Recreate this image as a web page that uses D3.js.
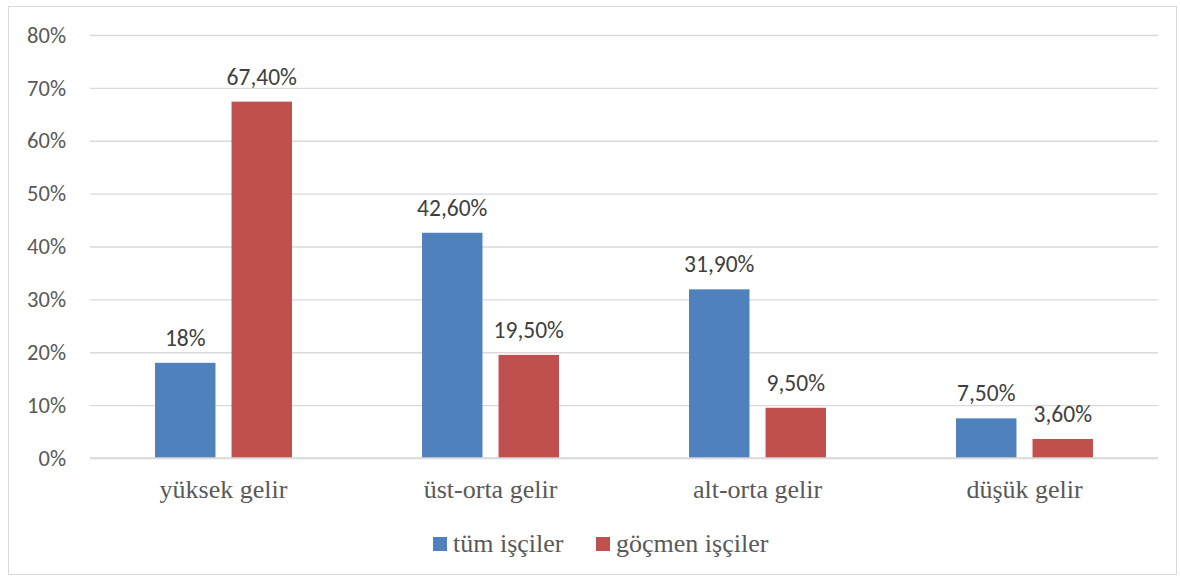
<!DOCTYPE html>
<html>
<head>
<meta charset="utf-8">
<script src="https://d3js.org/d3.v7.min.js"></script>
<style>
  body { margin: 0; background: #fff; }
  svg { display: block; }
</style>
</head>
<body>
<svg width="1180" height="577"></svg>
<script>
var categories = ["yüksek gelir", "üst-orta gelir", "alt-orta gelir", "düşük gelir"];
var seriesNames = ["tüm işçiler", "göçmen işçiler"];
var tumIsciler = [18, 42.6, 31.9, 7.5];
var gocmenIsciler = [67.4, 19.5, 9.5, 3.6];
var tumLabels = ["18%", "42,60%", "31,90%", "7,50%"];
var gocmenLabels = ["67,40%", "19,50%", "9,50%", "3,60%"];
var yTicks = [0, 10, 20, 30, 40, 50, 60, 70, 80];
var colors = ["#4F81BD", "#C0504D"];

function main() {
  var svg = d3.select("svg");
  var sansFont = "Carlito, Calibri, 'Open Sans', sans-serif";
  var serifFont = "'Liberation Serif', 'Times New Roman', serif";

  // outer chart border
  svg.append("rect")
    .attr("x", 8.5).attr("y", 6.5)
    .attr("width", 1168).attr("height", 568)
    .attr("fill", "#fff").attr("stroke", "#d9d9d9");

  var x0 = d3.scaleBand().domain(categories).range([90, 1158]);
  var x1 = d3.scaleBand().domain(seriesNames).range([0, x0.bandwidth()])
    .paddingInner(0.21).paddingOuter(0.85);
  var y = d3.scaleLinear().domain([0, 80]).range([458, 35]);

  var data = categories.map(function(c, i) {
    return [
      { cat: c, s: seriesNames[0], v: tumIsciler[i], label: tumLabels[i] },
      { cat: c, s: seriesNames[1], v: gocmenIsciler[i], label: gocmenLabels[i] }
    ];
  });

  // gridlines + y labels
  svg.append("g")
    .attr("transform", "translate(90,0)")
    .call(d3.axisLeft(y).tickValues(yTicks).tickSize(-1068).tickPadding(24)
      .tickFormat(function(d) { return d + "%"; }))
    .call(function(g) {
      g.select(".domain").remove();
      g.selectAll(".tick line").attr("stroke", "#d9d9d9").attr("stroke-width", 1.3);
      g.selectAll(".tick text")
        .attr("fill", "#595959")
        .attr("font-family", sansFont)
        .attr("font-size", 22.5);
    });

  var groups = svg.selectAll(".grp")
    .data(data)
    .enter().append("g")
    .attr("class", "grp")
    .attr("transform", function(d) { return "translate(" + x0(d[0].cat) + ",0)"; });

  groups.selectAll("rect")
    .data(function(d) { return d; })
    .enter().append("rect")
    .attr("x", function(d) { return x1(d.s); })
    .attr("y", function(d) { return y(d.v); })
    .attr("width", x1.bandwidth())
    .attr("height", function(d) { return y(0) - y(d.v); })
    .attr("fill", function(d, i) { return colors[i]; });

  groups.selectAll("text")
    .data(function(d) { return d; })
    .enter().append("text")
    .attr("x", function(d) { return x1(d.s) + x1.bandwidth() / 2; })
    .attr("y", function(d) { return y(d.v) - 17; })
    .attr("text-anchor", "middle")
    .attr("fill", "#404040")
    .attr("font-family", sansFont)
    .attr("font-size", 23.5)
    .text(function(d) { return d.label; });

  // baseline
  svg.append("line")
    .attr("x1", 90).attr("x2", 1158)
    .attr("y1", y(0)).attr("y2", y(0))
    .attr("stroke", "#d9d9d9").attr("stroke-width", 1.5);

  // category labels
  svg.append("g")
    .attr("transform", "translate(0," + y(0) + ")")
    .call(d3.axisBottom(x0).tickSize(0).tickPadding(22))
    .call(function(g) {
      g.select(".domain").remove();
      g.selectAll(".tick text")
        .attr("fill", "#595959")
        .attr("font-family", serifFont)
        .attr("font-size", 26);
    });

  // legend
  var legendX = [433, 596];
  var legend = svg.selectAll(".leg")
    .data(seriesNames)
    .enter().append("g")
    .attr("class", "leg")
    .attr("transform", function(d, i) { return "translate(" + legendX[i] + ",537)"; });
  legend.append("rect")
    .attr("width", 14).attr("height", 14)
    .attr("fill", function(d, i) { return colors[i]; });
  legend.append("text")
    .attr("x", 20).attr("y", 15)
    .attr("fill", "#595959")
    .attr("font-family", serifFont)
    .attr("font-size", 26)
    .text(function(d) { return d; });
}
main();
</script>
</body>
</html>
